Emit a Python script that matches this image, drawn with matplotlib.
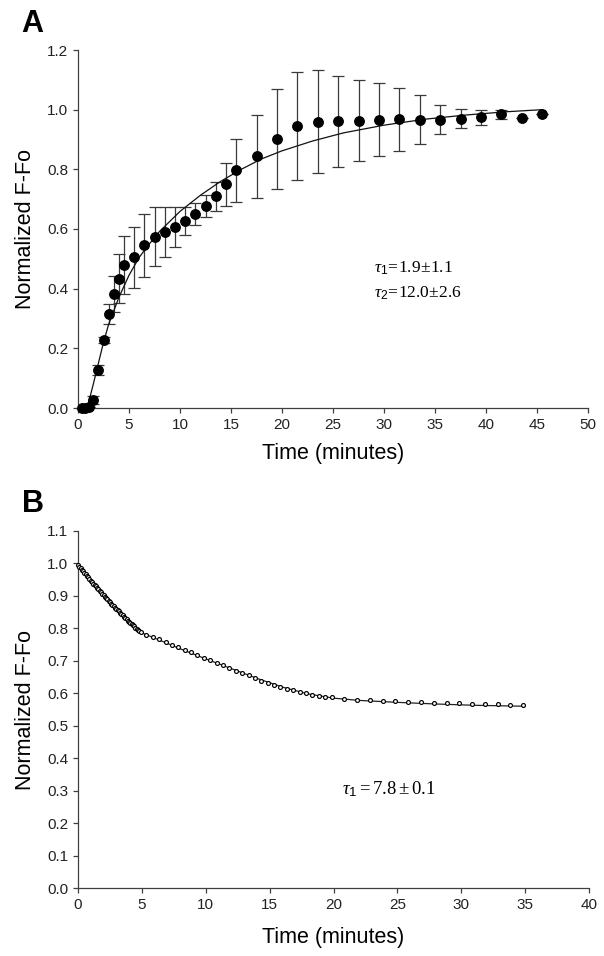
import matplotlib
matplotlib.use("Agg")
import matplotlib.pyplot as plt

plt.rcParams['font.family'] = ['Liberation Sans', 'DejaVu Sans']
plt.rcParams['mathtext.fontset'] = 'custom'
plt.rcParams['mathtext.rm'] = 'Liberation Serif'
plt.rcParams['mathtext.it'] = 'Liberation Serif:italic'
plt.rcParams['mathtext.sf'] = 'Liberation Sans'

# ---------------- Panel A data ----------------
a_time = [0.35, 0.7, 1.05, 1.5, 2.0, 2.5, 3.0, 3.5, 4.0, 4.5, 5.5, 6.5, 7.5, 8.5,
          9.5, 10.5, 11.5, 12.5, 13.5, 14.5, 15.5, 17.5, 19.5, 21.5, 23.5, 25.5,
          27.5, 29.5, 31.5, 33.5, 35.5, 37.5, 39.5, 41.5, 43.5, 45.5]
a_value = [0.0, 0.0, 0.003, 0.027, 0.127, 0.228, 0.315, 0.382, 0.434, 0.479,
           0.505, 0.545, 0.574, 0.590, 0.607, 0.627, 0.651, 0.677, 0.710, 0.750,
           0.797, 0.844, 0.901, 0.944, 0.960, 0.961, 0.963, 0.966, 0.968, 0.966,
           0.966, 0.970, 0.975, 0.984, 0.972, 0.985]
a_err = [0.0, 0.0, 0.0, 0.013, 0.017, 0.010, 0.034, 0.060, 0.082, 0.097, 0.102,
         0.105, 0.099, 0.084, 0.067, 0.047, 0.036, 0.038, 0.049, 0.072, 0.105,
         0.139, 0.167, 0.181, 0.172, 0.153, 0.135, 0.122, 0.105, 0.082, 0.048,
         0.032, 0.025, 0.014, 0.0, 0.0]
a_fit_time = [0.9, 1.5, 2.0, 2.5, 3.0, 4.0, 5.0, 6.0, 7.0, 8.0, 10.0, 12.0, 14.0,
              16.0, 18.0, 20.0, 23.0, 26.0, 30.0, 34.0, 38.0, 42.0, 45.5]
a_fit_value = [0.0, 0.08, 0.15, 0.22, 0.28, 0.37, 0.445, 0.505, 0.55, 0.592, 0.659,
               0.713, 0.76, 0.80, 0.835, 0.862, 0.895, 0.922, 0.948, 0.968, 0.982,
               0.993, 1.0]
a_xticks = [0, 5, 10, 15, 20, 25, 30, 35, 40, 45, 50]
a_yticks = [0.0, 0.2, 0.4, 0.6, 0.8, 1.0, 1.2]

# ---------------- Panel B data ----------------
b_time = [0.0, 0.1, 0.2, 0.3, 0.4, 0.5, 0.6, 0.7, 0.8, 0.9, 1.0, 1.1, 1.2, 1.3,
          1.4, 1.5, 1.6, 1.7, 1.8, 1.9, 2.0, 2.1, 2.2, 2.3, 2.4, 2.5, 2.6, 2.7,
          2.8, 2.9, 3.0, 3.1, 3.2, 3.3, 3.4, 3.5, 3.6, 3.7, 3.8, 3.9, 4.0, 4.1,
          4.2, 4.3, 4.4, 4.5, 4.6, 4.7, 4.8, 4.9,
          5.35, 5.85, 6.35, 6.85, 7.35, 7.85, 8.35, 8.85, 9.35, 9.85, 10.35, 10.85,
          11.35, 11.85, 12.35, 12.85, 13.35, 13.85, 14.35, 14.85, 15.35, 15.85,
          16.35, 16.85, 17.35, 17.85, 18.35, 18.85, 19.35, 19.85,
          20.85, 21.85, 22.85, 23.85, 24.85, 25.85, 26.85, 27.85, 28.85, 29.85,
          30.85, 31.85, 32.85, 33.85, 34.85]
b_value = [0.995, 0.990, 0.986, 0.981, 0.976, 0.971, 0.966, 0.961, 0.957, 0.952,
           0.947, 0.943, 0.938, 0.934, 0.929, 0.925, 0.920, 0.916, 0.911, 0.907,
           0.902, 0.898, 0.893, 0.889, 0.884, 0.880, 0.876, 0.872, 0.868, 0.864,
           0.860, 0.856, 0.852, 0.848, 0.844, 0.840, 0.836, 0.832, 0.828, 0.824,
           0.820, 0.816, 0.813, 0.809, 0.806, 0.802, 0.798, 0.795, 0.791, 0.788,
           0.781, 0.774, 0.766, 0.758, 0.750, 0.742, 0.734, 0.726, 0.718, 0.710,
           0.702, 0.694, 0.686, 0.678, 0.670, 0.663, 0.655, 0.648, 0.638, 0.632,
           0.626, 0.620, 0.614, 0.609, 0.604, 0.600, 0.596, 0.593, 0.590, 0.587,
           0.583, 0.580, 0.578, 0.576, 0.575, 0.574, 0.572, 0.571, 0.570, 0.569,
           0.568, 0.567, 0.566, 0.565, 0.564]
b_fit_time = [0.0, 1.0, 2.0, 3.0, 4.0, 5.0, 6.0, 8.0, 10.0, 12.0, 14.0, 16.0, 18.0,
              20.0, 22.0, 25.0, 28.0, 31.0, 35.0]
b_fit_value = [0.995, 0.947, 0.902, 0.860, 0.820, 0.786, 0.770, 0.737, 0.706, 0.676,
               0.646, 0.619, 0.598, 0.585, 0.578, 0.572, 0.567, 0.563, 0.560]
b_xticks = [0, 5, 10, 15, 20, 25, 30, 35, 40]
b_yticks = [0.0, 0.1, 0.2, 0.3, 0.4, 0.5, 0.6, 0.7, 0.8, 0.9, 1.0, 1.1]

SPINE = '#404040'

fig = plt.figure(figsize=(6.04, 9.56), dpi=100)
W, H = 604.0, 956.0
axA = fig.add_axes([78 / W, 1 - 408 / H, 510 / W, 358 / H])
axB = fig.add_axes([78 / W, 1 - 888 / H, 511 / W, 357 / H])


def style(ax):
    for s in ('top', 'right'):
        ax.spines[s].set_visible(False)
    for s in ('left', 'bottom'):
        ax.spines[s].set_color(SPINE)
        ax.spines[s].set_linewidth(0.9)
    ax.tick_params(direction='out', length=3.6, width=0.9, color=SPINE,
                   labelsize=11, labelcolor='#222222', pad=3.5)


# Panel A
style(axA)
axA.errorbar(a_time, a_value, yerr=a_err, fmt='none', ecolor='#3a3a3a',
             elinewidth=0.9, capsize=4.3, capthick=0.9, zorder=2, clip_on=False)
axA.plot(a_fit_time, a_fit_value, color='#111111', lw=0.9, zorder=3)
axA.plot(a_time, a_value, 'o', color='black', markersize=6.8, zorder=4,
         clip_on=False)
axA.set_xlim(0, 50)
axA.set_ylim(0, 1.2)
axA.set_xticks(a_xticks)
axA.set_yticks(a_yticks)
axA.set_yticklabels([f'{v:.1f}' for v in a_yticks])
axA.set_xlabel('Time (minutes)', fontsize=15.5)
axA.set_ylabel('Normalized F-Fo', fontsize=15.5)
axA.xaxis.set_label_coords(0.5, -0.097)
axA.yaxis.set_label_coords(-0.083, 0.5)
axA.text(29.0, 0.468, r'$\tau_{\mathsf{1}}\!=\!1.9\!\pm\!1.1$', fontsize=12.5,
         ha='left', va='center')
axA.text(29.0, 0.386, r'$\tau_{\mathsf{2}}\!=\!12.0\!\pm\!2.6$', fontsize=12.5,
         ha='left', va='center')

# Panel B
style(axB)
axB.plot(b_fit_time, b_fit_value, color='#222222', lw=0.9, zorder=2)
axB.plot(b_time, b_value, 'o', markerfacecolor='white', markeredgecolor='black',
         markersize=2.8, markeredgewidth=0.85, zorder=3, clip_on=False)
axB.set_xlim(0, 40)
axB.set_ylim(0, 1.1)
axB.set_xticks(b_xticks)
axB.set_yticks(b_yticks)
axB.set_yticklabels([f'{v:.1f}' for v in b_yticks])
axB.set_xlabel('Time (minutes)', fontsize=15.5)
axB.set_ylabel('Normalized F-Fo', fontsize=15.5)
axB.xaxis.set_label_coords(0.5, -0.11)
axB.yaxis.set_label_coords(-0.083, 0.5)
axB.text(20.7, 0.305, r'$\tau_{\mathsf{1}} = 7.8 \pm 0.1$', fontsize=13.5,
         ha='left', va='center')

# Panel letters
fig.text(21 / W, 1 - 32 / H, 'A', fontsize=22, fontweight='bold', ha='left',
         va='baseline')
fig.text(22 / W, 1 - 512 / H, 'B', fontsize=22, fontweight='bold', ha='left',
         va='baseline')

fig.savefig('out.png', dpi=100, facecolor='white')
